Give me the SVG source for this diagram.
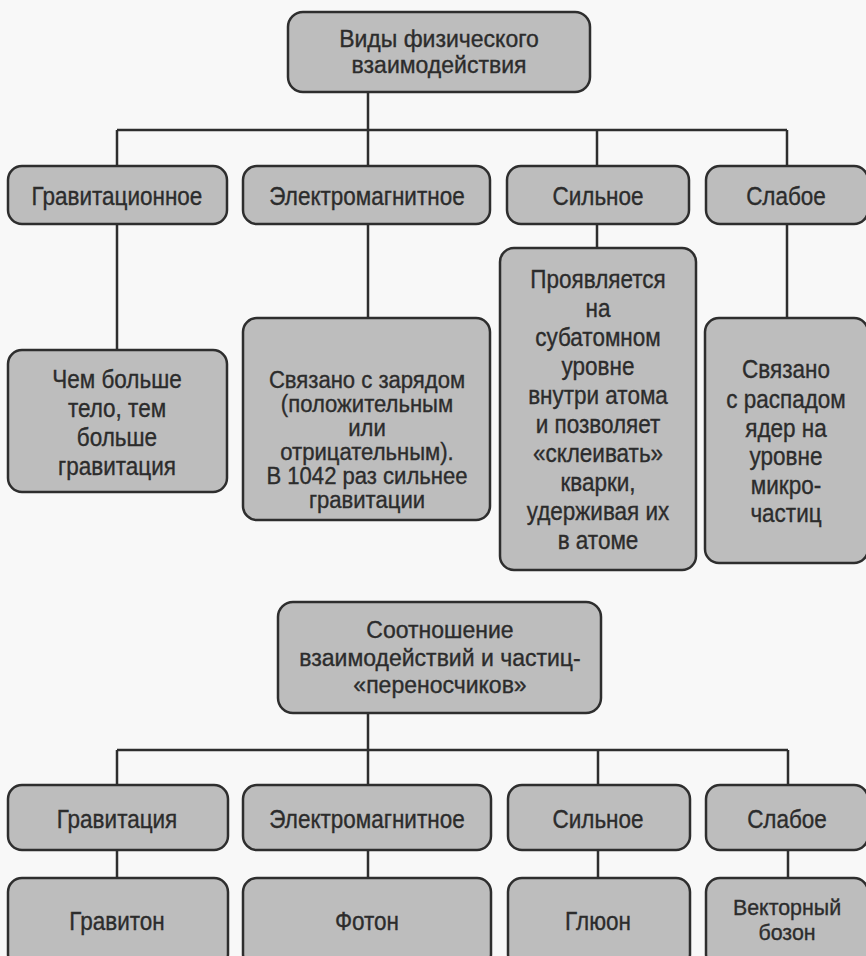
<svg xmlns="http://www.w3.org/2000/svg" width="866" height="956" viewBox="0 0 866 956">
<style>
.bg{fill:#f8f8f8}
.box{fill:#bdbdbd;stroke:#2e2e2e;stroke-width:2.5}
.ln{stroke:#2e2e2e;stroke-width:2.5;fill:none}
text{font-family:"Liberation Sans",Arial,sans-serif;font-size:25px;fill:#2c2c2c;stroke:#2c2c2c;stroke-width:0.35;text-anchor:middle}
.s23 text{font-size:23px}
</style>
<rect class="bg" x="0" y="0" width="866" height="956"/>
<g id="connectors">
<path class="ln" d="M368 92V166M117 130H787M117 130V166M597 130V166M787 130V166"/>
<path class="ln" d="M117 224V350M368 224V318M597 224V248M787 224V318"/>
<path class="ln" d="M368 713V785M117 750H788M117 750V785M598 750V785M788 750V785"/>
<path class="ln" d="M117 850V878M368 850V878M598 850V878M788 850V878"/>
</g>
<g id="n-root1"><rect class="box" x="288" y="12" width="302" height="80" rx="15"/>
<g class="s23" transform="translate(439 0)"><text x="0" y="47">Виды физического</text><text x="0" y="73">взаимодействия</text></g></g>
<g id="n-grav"><rect class="box" x="8" y="166" width="219" height="58" rx="14"/>
<g transform="translate(117 0) scale(.9 1)"><text x="0" y="205">Гравитационное</text></g></g>
<g id="n-em"><rect class="box" x="243" y="166" width="247" height="58" rx="14"/>
<g transform="translate(367 0) scale(.9 1)"><text x="0" y="205">Электромагнитное</text></g></g>
<g id="n-strong"><rect class="box" x="507" y="166" width="182" height="58" rx="14"/>
<g transform="translate(598 0) scale(.9 1)"><text x="0" y="205">Сильное</text></g></g>
<g id="n-weak"><rect class="box" x="706" y="166" width="162" height="58" rx="14"/>
<g transform="translate(786 0) scale(.9 1)"><text x="0" y="205">Слабое</text></g></g>
<g id="n-grav-d"><rect class="box" x="8" y="350" width="219" height="142" rx="14"/>
<g transform="translate(117 0) scale(.9 1)"><text x="0" y="388">Чем больше</text><text x="0" y="417">тело, тем</text><text x="0" y="446">больше</text><text x="0" y="475">гравитация</text></g></g>
<g id="n-em-d"><rect class="box" x="243" y="318" width="247" height="202" rx="14"/>
<g class="s23" transform="translate(367 0) scale(.96 1)"><text x="0" y="388">Связано с зарядом</text><text x="0" y="412">(положительным</text><text x="0" y="436">или</text><text x="0" y="460">отрицательным).</text><text x="0" y="484">В 1042 раз сильнее</text><text x="0" y="508">гравитации</text></g></g>
<g id="n-strong-d"><rect class="box" x="500" y="248" width="196" height="322" rx="14"/>
<g transform="translate(598 0) scale(.9 1)"><text x="0" y="288">Проявляется</text><text x="0" y="317">на</text><text x="0" y="346">субатомном</text><text x="0" y="375">уровне</text><text x="0" y="404">внутри атома</text><text x="0" y="433">и позволяет</text><text x="0" y="462">«склеивать»</text><text x="0" y="491">кварки,</text><text x="0" y="520">удерживая их</text><text x="0" y="549">в атоме</text></g></g>
<g id="n-weak-d"><rect class="box" x="705" y="318" width="163" height="245" rx="14"/>
<g transform="translate(786 0) scale(.9 1)"><text x="0" y="378">Связано</text><text x="0" y="408">с распадом</text><text x="0" y="437">ядер на</text><text x="0" y="465">уровне</text><text x="0" y="494">микро-</text><text x="0" y="522">частиц</text></g></g>
<g id="n-root2"><rect class="box" x="278" y="602" width="323" height="111" rx="15"/>
<g class="s23" transform="translate(440 0)"><text x="0" y="638">Соотношение</text><text x="0" y="666">взаимодействий и частиц-</text><text x="0" y="693">«переносчиков»</text></g></g>
<g id="n-grav2"><rect class="box" x="8" y="785" width="220" height="65" rx="14"/>
<g transform="translate(117 0) scale(.9 1)"><text x="0" y="828">Гравитация</text></g></g>
<g id="n-em2"><rect class="box" x="243" y="785" width="248" height="65" rx="14"/>
<g transform="translate(367 0) scale(.9 1)"><text x="0" y="828">Электромагнитное</text></g></g>
<g id="n-strong2"><rect class="box" x="508" y="785" width="182" height="65" rx="14"/>
<g transform="translate(598 0) scale(.9 1)"><text x="0" y="828">Сильное</text></g></g>
<g id="n-weak2"><rect class="box" x="706" y="785" width="162" height="65" rx="14"/>
<g transform="translate(787 0) scale(.9 1)"><text x="0" y="828">Слабое</text></g></g>
<g id="n-graviton"><rect class="box" x="8" y="878" width="220" height="90" rx="14"/>
<g transform="translate(117 0) scale(.9 1)"><text x="0" y="930">Гравитон</text></g></g>
<g id="n-photon"><rect class="box" x="243" y="878" width="248" height="90" rx="14"/>
<g transform="translate(367 0) scale(.9 1)"><text x="0" y="930">Фотон</text></g></g>
<g id="n-gluon"><rect class="box" x="508" y="878" width="182" height="90" rx="14"/>
<g transform="translate(598 0) scale(.9 1)"><text x="0" y="930">Глюон</text></g></g>
<g id="n-boson"><rect class="box" x="706" y="878" width="162" height="90" rx="14"/>
<g class="s23" transform="translate(787 0) scale(.93 1)"><text x="0" y="915">Векторный</text><text x="0" y="940">бозон</text></g></g>
</svg>
